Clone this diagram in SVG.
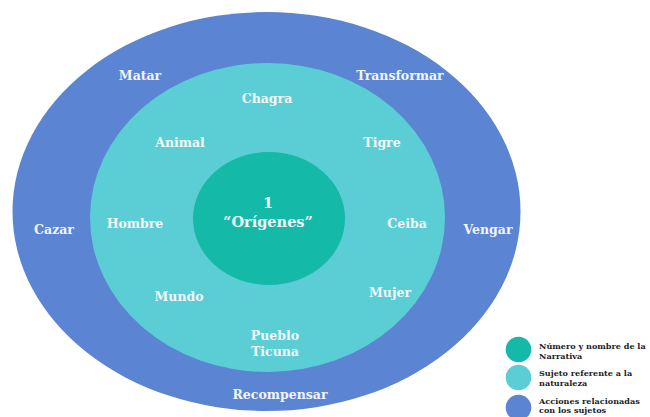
<svg xmlns="http://www.w3.org/2000/svg" width="650" height="417" viewBox="0 0 650 417">
  <style>
    .acc { fill: #5b84d3; }
    .suj { fill: #5bced5; }
    .num { fill: #15b9a8; }
    .lbl { font-family: "DejaVu Serif", "Liberation Serif", serif; font-weight: bold; font-size: 12.5px; fill: #f3f6fb; text-anchor: middle; }
    .ctr { font-size: 14.5px; }
    .leg { font-family: "DejaVu Serif", "Liberation Serif", serif; font-weight: bold; font-size: 8.1px; fill: #1c1c28; }
  </style>
  <rect width="650" height="417" fill="#ffffff"/>

  <!-- Outer ring: actions -->
  <g id="acciones">
    <ellipse class="acc" cx="266.5" cy="211.5" rx="254" ry="199.5"/>
    <text class="lbl" x="140" y="80">Matar</text>
    <text class="lbl" x="400" y="80">Transformar</text>
    <text class="lbl" x="54" y="234">Cazar</text>
    <text class="lbl" x="488" y="234">Vengar</text>
    <text class="lbl" x="280" y="399">Recompensar</text>
  </g>

  <!-- Middle ring: subjects -->
  <g id="sujetos">
    <ellipse class="suj" cx="267.5" cy="217.5" rx="177.5" ry="154.5"/>
    <text class="lbl" x="267" y="103">Chagra</text>
    <text class="lbl" x="180" y="147">Animal</text>
    <text class="lbl" x="382" y="147">Tigre</text>
    <text class="lbl" x="135" y="228">Hombre</text>
    <text class="lbl" x="407" y="228">Ceiba</text>
    <text class="lbl" x="179" y="301">Mundo</text>
    <text class="lbl" x="390" y="297">Mujer</text>
    <text class="lbl" x="275" y="340">Pueblo</text>
    <text class="lbl" x="275" y="356">Ticuna</text>
  </g>

  <!-- Core: narrative number and name -->
  <g id="narrativa">
    <ellipse class="num" cx="269" cy="218.5" rx="76" ry="66.5"/>
    <text class="lbl ctr" x="268" y="208">1</text>
    <text class="lbl ctr" x="268" y="227">“Orígenes”</text>
  </g>

  <!-- Legend -->
  <g id="leyenda">
    <circle class="num" cx="518.5" cy="349.5" r="12.8"/>
    <circle class="suj" cx="518.5" cy="377.5" r="12.8"/>
    <circle class="acc" cx="518.5" cy="407.5" r="12.8"/>
    <text class="leg" x="539" y="349">Número y nombre de la</text>
    <text class="leg" x="539" y="359">Narrativa</text>
    <text class="leg" x="539" y="376">Sujeto referente a la</text>
    <text class="leg" x="539" y="386">naturaleza</text>
    <text class="leg" x="539" y="404">Acciones relacionadas</text>
    <text class="leg" x="539" y="413">con los sujetos</text>
  </g>
</svg>
